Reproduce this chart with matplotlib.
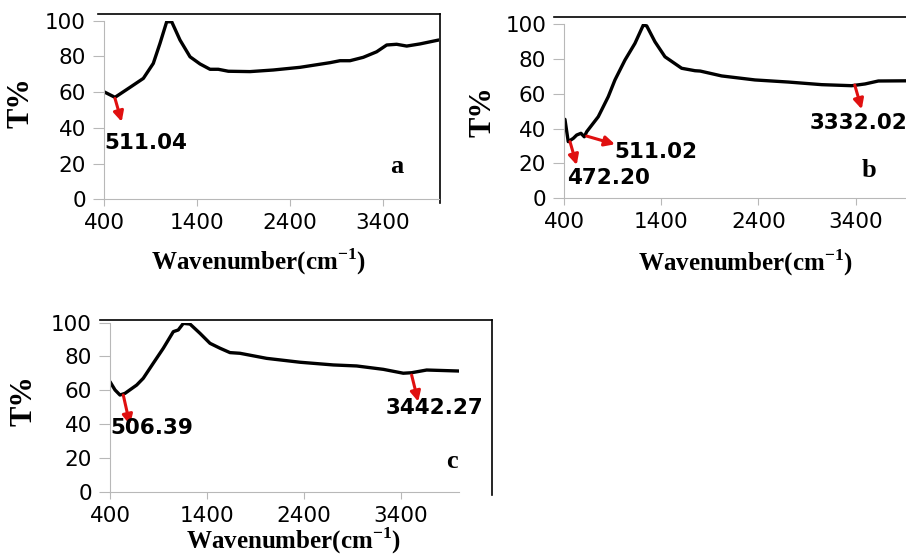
import numpy as np
import matplotlib.pyplot as plt

plt.rcParams["mathtext.fontset"] = "custom"
plt.rcParams["mathtext.rm"] = "Liberation Serif"
plt.rcParams["mathtext.bf"] = "Liberation Serif:bold"

# spectrum a
wn_a = [400, 518, 680, 823, 930, 1002, 1074, 1128, 1217, 1325, 1432, 1540, 1629, 1737,
        1970, 2220, 2508, 2830, 2938, 3045, 3188, 3332, 3440, 3547, 3655, 3798, 4000]
t_a = [60.2, 57.1, 62.7, 67.7, 76.1, 87.3, 99.4, 99.4, 89.2, 79.8, 75.8, 72.8, 72.8, 71.7,
       71.5, 72.4, 73.9, 76.5, 77.6, 77.6, 79.5, 82.6, 86.4, 86.8, 85.8, 87.0, 89.2]

# spectrum b
wn_b = [407, 441, 493, 528, 572, 606, 631, 750, 853, 922, 1025, 1128, 1214, 1249, 1334,
        1437, 1609, 1746, 1800, 2021, 2364, 2707, 3051, 3360, 3497, 3634, 3920, 4000]
t_b = [45.3, 32.5, 34.4, 36.3, 37.3, 35.3, 38.2, 46.8, 58.3, 67.9, 79.3, 88.9, 99.4, 98.9, 89.8,
       81.2, 74.6, 73.2, 73.0, 70.2, 67.9, 66.7, 65.2, 64.6, 65.6, 67.3, 67.4, 67.4]

# spectrum c
wn_c = [400, 452, 503, 555, 675, 743, 846, 950, 1053, 1104, 1156, 1225, 1328, 1431, 1534,
        1637, 1740, 2015, 2359, 2702, 2943, 3218, 3424, 3510, 3665, 4000]
t_c = [65.1, 60.2, 57.2, 58.2, 63.1, 67.1, 76.0, 84.9, 94.7, 95.7, 99.6, 99.2, 93.7, 87.8, 84.9,
       82.3, 81.9, 78.9, 76.6, 75.0, 74.4, 72.4, 70.1, 70.4, 72.0, 71.4]

# peak labels: text, arrow tail, arrow head, text position
peaks_a = [("511.04", (518, 56.5), (590, 43.4), (400, 31.5))]
peaks_b = [("472.20", (459, 32.5), (528, 19.1), (425, 11.5)),
           ("511.02", (631, 35.7), (922, 31.0), (912, 26.7)),
           ("3332.02", (3391, 65.0), (3463, 51.1), (2930, 43.0))]
peaks_c = [("506.39", (537, 57.2), (606, 39.5), (400, 37.5)),
           ("3442.27", (3510, 69.0), (3578, 53.3), (3244, 49.3))]

xticks = [400, 1400, 2400, 3400]
yticks = [0, 20, 40, 60, 80, 100]

fig = plt.figure(figsize=(9.06, 5.58), dpi=100)

panels = [
    # rect, x, y, peaks, letter, letter pos, xlabel pos, ylabel pos, frame (top y, left x, right x)
    ([0.1148, 0.6428, 0.3695, 0.3201], wn_a, t_a, peaks_a, "a", (3551, 18.1), (0.462, -0.265), (-0.206, 0.54), (1.038, -0.018, 1.004)),
    ([0.6228, 0.6446, 0.3859, 0.3124], wn_b, t_b, peaks_b, "b", (3538, 15.7), (0.519, -0.28), (-0.19, 0.50), (1.039, -0.03, 1.2)),
    ([0.1214, 0.1188, 0.3854, 0.3029], wn_c, t_c, peaks_c, "c", (3923, 17.8), (0.526, -0.2), (-0.206, 0.54), (1.016, -0.029, 1.095)),
]

grey = "#b8b8b8"
red = "#e01010"

for rect, x, y, peaks, letter, lpos, xlpos, ylpos, frame in panels:
    ax = fig.add_axes(rect)
    ax.plot(x, y, color="black", lw=2.4, solid_capstyle="round", solid_joinstyle="round")
    ax.set_xlim(400, 4000)
    ax.set_ylim(0, 100)
    ax.set_xticks(xticks)
    ax.set_yticks(yticks)
    ax.tick_params(axis="both", colors=grey, labelcolor="black", labelsize=15.5)
    ax.tick_params(axis="y", length=8, width=0.8, pad=5)
    ax.tick_params(axis="x", length=5, width=0.8, pad=5)
    for s in ["top", "right"]:
        ax.spines[s].set_visible(False)
    for s in ["left", "bottom"]:
        ax.spines[s].set_color(grey)
        ax.spines[s].set_linewidth(0.8)

    # black border lines (top and right)
    top, x0, x1 = frame
    ax.plot([x0, x1], [top, top], color="black", lw=1.2, transform=ax.transAxes, clip_on=False)
    ax.plot([x1, x1], [top, -0.02], color="black", lw=1.2, transform=ax.transAxes, clip_on=False)

    ax.set_xlabel("Wavenumber(cm$^{\\mathbf{-1}}$)", family="Liberation Serif",
                  fontweight="bold", fontsize=18)
    ax.xaxis.set_label_coords(*xlpos)
    ax.set_ylabel("T%", family="Liberation Serif", fontweight="bold", fontsize=22)
    ax.yaxis.set_label_coords(*ylpos)

    ax.text(lpos[0], lpos[1], letter, family="Liberation Serif", fontweight="bold",
            fontsize=19, ha="center", va="center")

    for label, tail, head, tpos in peaks:
        ax.annotate("", xy=head, xytext=tail,
                    arrowprops=dict(arrowstyle="-|>,head_length=0.6,head_width=0.3",
                                    color=red, lw=2.2, shrinkA=0, shrinkB=0))
        ax.text(tpos[0], tpos[1], label, fontsize=15.5, fontweight="bold",
                family="DejaVu Sans", ha="left", va="center")

fig.savefig("out.png", dpi=100)
